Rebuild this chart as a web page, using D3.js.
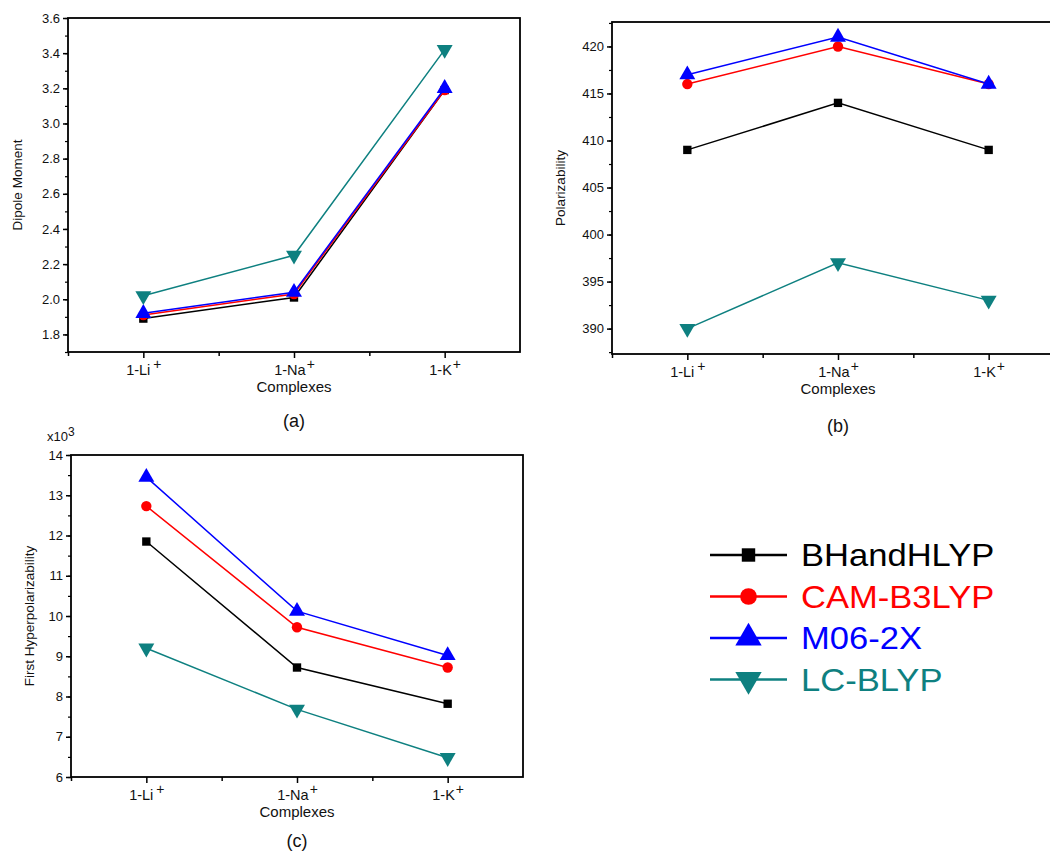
<!DOCTYPE html>
<html>
<head>
<meta charset="utf-8">
<script src="https://cdn.jsdelivr.net/npm/d3@7"></script>
<style>
  body { margin: 0; background: #fff; }
  svg { font-family: "Liberation Sans", Arial, sans-serif; }
</style>
</head>
<body>
<svg id="chart" width="1050" height="855"></svg>
<script>
const categories = ['1-Li', '1-Na', '1-K']
const methods = ['BHandHLYP', 'CAM-B3LYP', 'M06-2X', 'LC-BLYP']
const colors = ['#000000', '#ff0000', '#0000ff', '#0e8080']
const symbols = [d3.symbolSquare, d3.symbolCircle, d3.symbolTriangle, 'down']

// (a) dipole moment
const dipole = [
  [1.89, 2.01, 3.19],
  [1.91, 2.03, 3.19],
  [1.92, 2.04, 3.20],
  [2.02, 2.25, 3.42],
]
// (b) polarizability
const polar = [
  [409, 414, 409],
  [416, 420, 416],
  [417, 421, 416],
  [390, 397, 393],
]
// (c) first hyperpolarizability, x10^3
const hyper = [
  [11.85, 8.72, 7.82],
  [12.73, 9.72, 8.72],
  [13.45, 10.12, 9.02],
  [9.20, 7.68, 6.48],
]

const dipoleTicks = [1.8, 2.0, 2.2, 2.4, 2.6, 2.8, 3.0, 3.2, 3.4, 3.6]
const polarTicks = [390, 395, 400, 405, 410, 415, 420]
const hyperTicks = [6, 7, 8, 9, 10, 11, 12, 13, 14]

const svg = d3.select('#chart')

const markerPath = (sym, size) => {
  if (sym === 'down') {
    return d3.symbol().type(d3.symbolTriangle).size(size)()
  }
  return d3.symbol().type(sym).size(size)()
}
const markerSizes = [70, 85, 110, 110]

const drawPanel = (cfg) => {
  const g = svg.append('g')
  const x = d3.scaleLinear().domain([0.5, 3.5]).range([cfg.left, cfg.right])
  const y = d3.scaleLinear().domain(cfg.yDomain).range([cfg.bottom, cfg.top])

  // minor y ticks
  g.append('g')
    .attr('transform', `translate(${cfg.left},0)`)
    .call(d3.axisLeft(y).tickValues(cfg.minor).tickSize(3).tickFormat(''))
    .call(a => a.select('.domain').remove())
    .selectAll('line').attr('stroke-width', 1.2)

  // major y ticks
  const ya = g.append('g')
    .attr('transform', `translate(${cfg.left},0)`)
    .call(d3.axisLeft(y).tickValues(cfg.ticks).tickSize(5).tickSizeOuter(0).tickPadding(3).tickFormat(cfg.fmt))
  ya.select('.domain').remove()
  ya.selectAll('line').attr('stroke-width', 1.5)
  ya.selectAll('text').attr('font-size', 13).attr('fill', '#111')

  // minor x ticks
  g.append('g')
    .attr('transform', `translate(0,${cfg.bottom})`)
    .call(d3.axisBottom(x).tickValues([0.5, 1.5, 2.5]).tickSize(4).tickFormat(''))
    .call(a => a.select('.domain').remove())
    .selectAll('line').attr('stroke-width', 1.5)

  // major x ticks with superscript labels
  const xa = g.append('g')
    .attr('transform', `translate(0,${cfg.bottom})`)
    .call(d3.axisBottom(x).tickValues([1, 2, 3]).tickSize(6).tickSizeOuter(0).tickPadding(6).tickFormat(''))
  xa.select('.domain').remove()
  xa.selectAll('line').attr('stroke-width', 1.5)
  xa.selectAll('.tick').append('text')
    .attr('y', 23)
    .attr('font-size', 14.5)
    .attr('fill', '#111')
    .attr('text-anchor', 'middle')
    .each(function (d) {
      const t = d3.select(this)
      t.append('tspan').text(categories[d - 1])
      t.append('tspan').attr('dy', -6).attr('dx', d === 1 ? 3 : 1).attr('font-size', 14).text('+')
    })

  // frame
  g.append('rect')
    .attr('x', cfg.left).attr('y', cfg.top)
    .attr('width', cfg.right - cfg.left).attr('height', cfg.bottom - cfg.top)
    .attr('fill', 'none').attr('stroke', '#000').attr('stroke-width', 1.8)

  // series
  const line = d3.line().x((d, i) => x(i + 1)).y(d => y(d))
  cfg.data.forEach((vals, k) => {
    g.append('path')
      .attr('d', line(vals))
      .attr('fill', 'none')
      .attr('stroke', colors[k])
      .attr('stroke-width', 1.5)
    g.selectAll(null).data(vals).enter().append('path')
      .attr('d', markerPath(symbols[k], markerSizes[k]))
      .attr('transform', (d, i) => `translate(${x(i + 1)},${y(d)})${symbols[k] === 'down' ? ' rotate(180)' : ''}`)
      .attr('fill', colors[k])
  })

  // axis titles
  g.append('text')
    .attr('x', x(2)).attr('y', cfg.bottom + 40)
    .attr('text-anchor', 'middle').attr('font-size', 15).attr('fill', '#111')
    .text('Complexes')
  g.append('text')
    .attr('transform', `translate(${cfg.ylabX},${(cfg.top + cfg.bottom) / 2}) rotate(-90)`)
    .attr('text-anchor', 'middle').attr('font-size', 13.5).attr('fill', '#111')
    .text(cfg.ylabel)
  g.append('text')
    .attr('x', x(2)).attr('y', cfg.captionY)
    .attr('text-anchor', 'middle').attr('font-size', 18).attr('fill', '#111')
    .text(cfg.caption)
}

drawPanel({
  left: 68, right: 520, top: 18, bottom: 352,
  yDomain: [1.7, 3.6], ticks: dipoleTicks, minor: d3.range(1.7, 3.65, 0.1),
  fmt: d3.format('.1f'), data: dipole,
  ylabel: 'Dipole Moment', ylabX: 22, caption: '(a)', captionY: 427,
})

drawPanel({
  left: 612, right: 1064, top: 22, bottom: 354,
  yDomain: [387.3, 422.6], ticks: polarTicks, minor: d3.range(387.5, 422.6, 2.5),
  fmt: d3.format('d'), data: polar,
  ylabel: 'Polarizability', ylabX: 565, caption: '(b)', captionY: 432,
})

drawPanel({
  left: 71, right: 523, top: 455, bottom: 777,
  yDomain: [6, 14], ticks: hyperTicks, minor: d3.range(6, 14.01, 0.5),
  fmt: d3.format('d'), data: hyper,
  ylabel: 'First Hyperpolarizability', ylabX: 34, caption: '(c)', captionY: 847,
})

// x10^3 multiplier for panel (c)
const mult = svg.append('text').attr('x', 47).attr('y', 441).attr('font-size', 13).attr('fill', '#111')
mult.append('tspan').text('x10')
mult.append('tspan').attr('dy', -5).attr('font-size', 12).text('3')

// legend
const legend = svg.append('g').attr('transform', 'translate(710,555)')
methods.forEach((m, k) => {
  const row = legend.append('g').attr('transform', `translate(0,${k * 41.5})`)
  row.append('line').attr('x1', 0).attr('x2', 77).attr('stroke', colors[k]).attr('stroke-width', 2.5)
  row.append('path')
    .attr('d', markerPath(symbols[k], [180, 220, 300, 300][k]))
    .attr('transform', `translate(38.5,0)${symbols[k] === 'down' ? ' rotate(180)' : ''}`)
    .attr('fill', colors[k])
  row.append('text')
    .attr('transform', 'translate(91,11) scale(1.08,1)')
    .attr('font-size', 32).attr('fill', colors[k])
    .text(m)
})
</script>
</body>
</html>
